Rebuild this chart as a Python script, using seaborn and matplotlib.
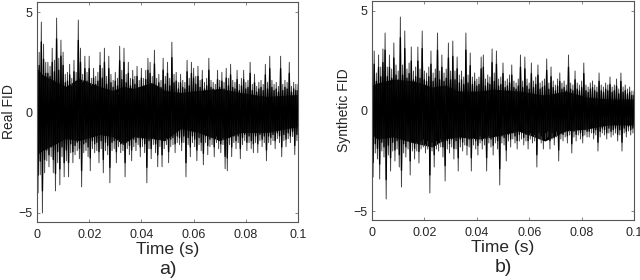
import numpy as np
import matplotlib
matplotlib.use("Agg")
import matplotlib.pyplot as plt
import seaborn as sns

# peak values, 10 per row, about 0.83 ms apart
real_upper = [3.8, 3.0, 4.5, 3.4, 2.5, 2.5, 2.3, 3.2, 2.6, 4.7,
              2.7, 3.6, 3.0, 1.9, 2.0, 2.4, 1.7, 2.6, 2.0, 4.6,
              3.2, 1.9, 2.8, 2.0, 2.8, 1.7, 2.2, 1.8, 2.0, 3.0,
              2.2, 3.2, 1.8, 2.8, 1.9, 1.6, 2.0, 1.7, 3.3, 2.1,
              3.2, 1.9, 2.5, 1.7, 2.1, 1.8, 2.3, 1.6, 2.2, 1.7,
              2.1, 2.7, 2.5, 1.8, 3.1, 1.7, 1.9, 1.6, 2.7, 1.8,
              2.5, 1.7, 3.5, 1.9, 2.0, 1.5, 1.9, 1.6, 1.5, 2.6,
              1.7, 2.5, 2.2, 1.8, 2.3, 1.6, 2.1, 1.5, 1.7, 2.7,
              1.6, 1.5, 1.4, 2.1, 1.6, 2.0, 1.5, 2.2, 1.7, 2.4,
              1.6, 1.5, 2.1, 1.4, 1.7, 2.1, 1.5, 1.6, 2.5, 1.4,
              1.9, 1.3, 1.5, 1.6, 1.4, 2.4, 1.5, 2.8, 1.6, 1.4,
              1.5, 1.3, 2.8, 1.4, 1.6, 1.5, 2.5, 1.3, 1.5, 1.4]
real_lower = [-4.0, -3.1, -5.0, -3.0, -2.4, -2.7, -2.2, -3.0, -3.9, -2.5,
              -3.6, -2.2, -3.2, -2.4, -3.2, -2.0, -2.5, -2.1, -1.9, -2.3,
              -3.7, -2.0, -1.9, -2.2, -2.9, -1.8, -2.0, -1.9, -2.5, -1.8,
              -3.0, -1.9, -2.1, -3.5, -1.9, -1.8, -2.5, -1.7, -2.0, -1.9,
              -3.2, -1.8, -2.1, -2.4, -1.7, -1.9, -1.6, -2.2, -1.7, -2.0,
              -3.5, -1.8, -2.3, -1.6, -2.0, -2.7, -1.7, -2.7, -1.8, -1.6,
              -2.5, -1.7, -1.6, -2.0, -1.5, -1.6, -1.9, -1.5, -3.2, -1.6,
              -2.2, -1.5, -1.7, -2.4, -1.6, -1.9, -2.6, -1.5, -2.1, -1.7,
              -1.6, -2.2, -1.5, -1.8, -2.0, -1.6, -2.8, -2.9, -1.6, -2.2,
              -1.5, -1.8, -1.5, -2.3, -1.6, -1.4, -1.9, -1.5, -1.8, -2.0,
              -1.5, -2.0, -1.4, -1.7, -1.5, -2.4, -1.5, -1.6, -1.4, -1.8,
              -1.3, -1.5, -2.2, -1.4, -1.7, -1.3, -1.5, -1.2, -2.1, -1.4]
synth_upper = [2.0, 3.0, 1.9, 2.8, 2.2, 3.1, 3.9, 2.2, 2.8, 2.1,
               3.4, 2.3, 2.0, 4.7, 2.3, 4.0, 2.1, 2.4, 3.2, 2.0,
               2.2, 3.2, 2.1, 4.0, 2.0, 1.9, 2.2, 3.0, 1.9, 2.1,
               3.9, 2.0, 2.8, 1.9, 2.1, 3.4, 2.0, 3.5, 2.0, 2.7,
               1.8, 2.0, 1.7, 3.9, 1.8, 2.9, 1.7, 1.9, 1.6, 1.7,
               2.7, 2.8, 1.6, 1.8, 1.7, 3.1, 1.9, 3.0, 1.6, 1.7,
               2.4, 1.5, 1.6, 1.8, 2.3, 1.5, 1.4, 1.6, 2.8, 1.5,
               2.7, 1.6, 1.4, 2.4, 1.5, 1.7, 2.3, 1.4, 1.5, 1.6,
               2.6, 1.4, 2.2, 1.5, 1.3, 1.6, 1.9, 1.4, 1.5, 1.3,
               2.8, 1.4, 1.3, 2.0, 1.4, 1.3, 1.5, 2.4, 1.3, 1.2,
               1.4, 1.5, 1.3, 1.2, 1.9, 1.3, 1.2, 1.4, 1.3, 1.7,
               1.2, 1.3, 1.6, 1.1, 1.9, 1.2, 1.3, 1.1, 1.2, 1.0]
synth_lower = [-3.3, -2.1, -2.4, -3.4, -2.0, -2.3, -4.4, -2.2, -3.0, -2.0,
               -2.5, -1.9, -2.8, -3.8, -2.1, -2.3, -1.9, -3.2, -2.0, -2.4,
               -2.0, -2.6, -1.9, -1.8, -2.1, -1.9, -4.1, -2.0, -2.8, -1.9,
               -2.0, -1.8, -2.3, -3.5, -1.9, -2.1, -1.8, -2.4, -1.9, -3.0,
               -1.8, -2.0, -1.7, -2.2, -1.8, -3.0, -1.7, -1.9, -2.2, -1.6,
               -1.9, -1.7, -3.0, -1.6, -1.8, -2.2, -1.6, -1.9, -3.7, -1.6,
               -1.7, -2.5, -1.5, -1.8, -1.4, -1.6, -1.9, -1.5, -1.4, -1.7,
               -1.5, -1.9, -1.4, -1.6, -1.5, -2.8, -1.4, -1.6, -1.9, -1.4,
               -1.3, -1.9, -1.4, -1.7, -1.3, -2.5, -1.4, -1.5, -1.3, -1.6,
               -1.2, -2.1, -1.3, -1.5, -1.2, -1.4, -1.6, -1.2, -1.3, -1.3,
               -1.1, -1.4, -1.2, -2.0, -1.3, -1.1, -1.2, -1.4, -1.1, -1.3,
               -1.2, -1.1, -1.5, -1.2, -2.0, -1.1, -1.3, -1.0, -1.2, -1.1]
# the solid black part of each trace
real_core_time = [0, 0.002, 0.011, 0.016, 0.024, 0.029, 0.033, 0.037, 0.044,
                  0.049, 0.055, 0.062, 0.070, 0.078, 0.088, 0.1]
real_core_upper = [2.2, 1.9, 1.3, 1.7, 1.3, 1.1, 1.3, 1.2, 1.5,
                   1.1, 1.0, 1.1, 1.2, 1.0, 0.8, 0.9]
real_core_lower = [-2.1, -1.9, -1.3, -1.4, -1.1, -1.2, -1.6, -1.2, -1.3,
                   -1.4, -0.8, -1.0, -1.4, -1.0, -1.0, -0.7]
synth_core_time = [0, 0.002, 0.008, 0.016, 0.023, 0.028, 0.033, 0.041, 0.046,
                   0.056, 0.066, 0.074, 0.082, 0.090, 0.1]
synth_core_upper = [1.3, 1.4, 1.6, 1.5, 1.2, 1.3, 1.0, 1.0, 1.1,
                    1.0, 0.8, 1.0, 0.7, 0.6, 0.6]
synth_core_lower = [-1.2, -1.4, -1.3, -1.6, -1.8, -1.4, -1.3, -1.4, -1.3,
                    -1.0, -1.5, -1.0, -0.9, -0.7, -0.7]
panel_names = ["Real FID", "Synthetic FID"]
panel_tags = ["a)", "b)"]
x_ticks = [0, 0.02, 0.04, 0.06, 0.08, 0.1]
x_tick_labels = ["0", "0.02", "0.04", "0.06", "0.08", "0.1"]
y_ticks = [-5, 0, 5]
y_tick_labels = ["\u22125", "0", "5"]


def plot_fid(ax, upper, lower, core_time, core_upper, core_lower, name, tag):
    # the trace swings between its upper and lower peaks
    trace = np.column_stack([upper, lower]).ravel()
    time = np.arange(len(trace) + 1) * 0.1 / len(trace)
    trace = np.append(trace, upper[-1])
    sns.lineplot(x=time, y=trace, color="#444444", linewidth=0.7,
                 estimator=None, sort=False, ax=ax)
    # heavier stroke over the lower part of the swing, it blurs to black there
    sns.lineplot(x=time, y=trace * 0.78, color="black", linewidth=0.95,
                 estimator=None, sort=False, ax=ax)
    ax.fill_between(core_time, core_lower, core_upper, color="black", lw=0)
    ax.set_xlim(0, 0.1)
    ax.set_ylim(-5.45, 5.5)
    ax.set_xticks(x_ticks)
    ax.set_xticklabels(x_tick_labels, fontsize=9)
    ax.set_yticks(y_ticks)
    ax.set_yticklabels(y_tick_labels, fontsize=9)
    ax.tick_params(direction="in", length=2, width=0.5, color="#555555",
                   top=True, right=True, bottom=True, left=True, pad=5)
    ax.tick_params(axis="y", pad=3)
    for spine in ax.spines.values():
        spine.set_color("#555555")
        spine.set_linewidth(0.8)
    ax.set_xlabel("Time (s)", fontsize=12.5, labelpad=1)
    ax.set_ylabel(name, fontsize=10, labelpad=2)
    ax.text(0.5, -0.218, tag, transform=ax.transAxes, fontsize=14,
            ha="center", va="center")


sns.set_style("white")
plt.rcParams["font.family"] = ["Liberation Sans", "DejaVu Sans"]

fig = plt.figure(figsize=(6.4, 2.8), dpi=100)
ax_a = fig.add_axes([37 / 640, 1 - 222 / 280, 261 / 640, 220 / 280])
ax_b = fig.add_axes([372 / 640, 1 - 220 / 280, 262 / 640, 219 / 280])
plot_fid(ax_a, real_upper, real_lower, real_core_time, real_core_upper,
         real_core_lower, panel_names[0], panel_tags[0])
plot_fid(ax_b, synth_upper, synth_lower, synth_core_time, synth_core_upper,
         synth_core_lower, panel_names[1], panel_tags[1])
fig.savefig("out.png", dpi=100)
